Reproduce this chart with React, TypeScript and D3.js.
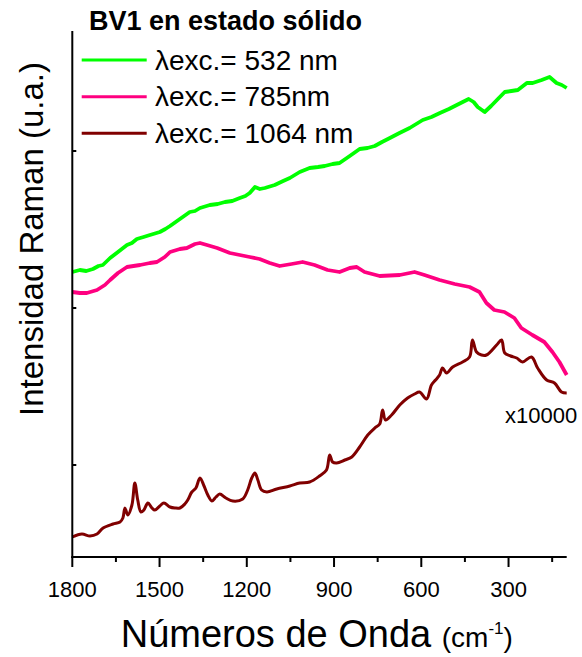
import React from "react";
import * as d3 from "d3";

// Raman spectra of BV1 (solid state) at three excitation wavelengths.
// Wavenumbers in cm-1, intensities in arbitrary units (curves offset for display).

const green532Wn = [1800, 1774, 1752, 1729, 1710, 1695, 1670, 1643, 1612, 1595, 1578, 1555, 1533, 1499, 1480, 1464, 1430, 1396, 1378, 1361, 1327, 1300, 1275, 1250, 1224, 1205, 1190, 1172, 1155, 1138, 1104, 1075, 1052, 1018, 984, 955, 932, 905, 881, 846, 812, 785, 760, 735, 708, 675, 640, 595, 565, 536, 505, 478, 437, 420, 406, 382, 360, 340, 313, 290, 268, 237, 217, 186, 159, 135, 117, 100];
const green532Int = [285, 287, 286, 288, 291, 292, 299, 305, 312, 314, 318, 320, 322, 325, 328, 331, 338, 345, 346, 349, 352, 353, 355, 356, 359, 361, 364, 370, 368, 369, 372, 376, 379, 385, 389, 390, 391, 393, 394, 401, 408, 409, 411, 415, 419, 424, 429, 437, 440, 444, 448, 452, 458, 455, 450, 445, 451, 457, 465, 466, 467, 474, 474, 477, 480, 474, 472, 469];

const pink785Wn = [1800, 1774, 1750, 1715, 1688, 1670, 1643, 1612, 1567, 1533, 1509, 1482, 1464, 1430, 1406, 1378, 1361, 1337, 1302, 1258, 1224, 1190, 1156, 1121, 1087, 1046, 1008, 967, 922, 881, 846, 822, 795, 743, 674, 623, 589, 537, 485, 434, 400, 376, 349, 314, 280, 256, 218, 177, 149, 125, 100];
const pink785Int = [265, 264, 264, 267, 272, 277, 284, 290, 292, 294, 295, 300, 305, 308, 309, 313, 314, 312, 309, 304, 302, 300, 298, 294, 291, 293, 295, 292, 287, 285, 289, 290, 285, 281, 282, 285, 282, 277, 273, 270, 265, 254, 247, 245, 239, 229, 222, 215, 205, 195, 182];

const red1064Wn = [1800, 1767, 1739, 1715, 1694, 1660, 1636, 1626, 1619, 1609, 1595, 1585, 1575, 1564, 1554, 1540, 1526, 1516, 1499, 1485, 1464, 1447, 1430, 1413, 1403, 1389, 1375, 1361, 1347, 1334, 1320, 1306, 1293, 1272, 1248, 1214, 1197, 1183, 1172, 1162, 1149, 1131, 1097, 1052, 1018, 984, 950, 926, 915, 905, 891, 863, 839, 812, 784, 760, 743, 733, 723, 702, 674, 647, 623, 606, 582, 565, 551, 537, 527, 513, 492, 458, 434, 424, 410, 393, 376, 341, 324, 313, 293, 272, 252, 221, 200, 169, 142, 118, 100];
const red1064Int = [20, 23, 21, 23, 29, 33, 35, 39, 49, 42, 52, 74, 57, 45, 47, 54, 49, 47, 51, 54, 50, 49, 49, 53, 57, 65, 69, 79, 71, 62, 56, 60, 63, 59, 56, 58, 67, 79, 84, 77, 67, 65, 68, 71, 74, 75, 81, 87, 102, 95, 94, 97, 100, 110, 122, 129, 133, 147, 137, 142, 152, 159, 163, 165, 158, 172, 177, 182, 189, 184, 190, 195, 200, 217, 205, 202, 202, 212, 217, 204, 201, 199, 195, 200, 189, 177, 174, 165, 164];

const xTicks = [1800, 1500, 1200, 900, 600, 300];
const xMinorTicks = [1650, 1350, 1050, 750, 450, 150];
const yMinorTicks = [92, 249, 406];

const seriesLabels = ["\u03bbexc.= 532 nm", "\u03bbexc.= 785nm", "\u03bbexc.= 1064 nm"];
const seriesColors = ["#00ff00", "#ff0080", "#800000"];

const W = 582;
const H = 657;
const FONT = "Arial, 'Liberation Sans', Helvetica, sans-serif";

export default function App() {
  const x = d3.scaleLinear().domain([1800, 100]).range([72.3, 566.7]);
  const y = d3.scaleLinear().domain([0, 526]).range([557, 31]);

  const toPts = (wn: number[], iv: number[]) => wn.map((w, i) => [w, iv[i]] as [number, number]);
  const lineLin = d3.line<[number, number]>().x((d) => x(d[0])).y((d) => y(d[1]));
  const lineRed = d3
    .line<[number, number]>()
    .x((d) => x(d[0]))
    .y((d) => y(d[1]))
    .curve(d3.curveCatmullRom.alpha(0.5));

  const x0 = x.range()[0];
  const x1 = x.range()[1];
  const yb = y.range()[0];
  const yt = y.range()[1];

  const legendY = [60, 96.7, 133.3];

  return (
    <svg
      width={W}
      height={H}
      style={{ position: "absolute", left: 0, top: 0, background: "#fff" }}
      fontFamily={FONT}
    >
      <rect width={W} height={H} fill="#fff" />

      {/* spectra */}
      <path d={lineLin(toPts(green532Wn, green532Int)) || ""} fill="none" stroke={seriesColors[0]} strokeWidth={3.8} strokeLinejoin="round" />
      <path d={lineLin(toPts(pink785Wn, pink785Int)) || ""} fill="none" stroke={seriesColors[1]} strokeWidth={3.8} strokeLinejoin="round" />
      <path d={lineRed(toPts(red1064Wn, red1064Int)) || ""} fill="none" stroke={seriesColors[2]} strokeWidth={3} strokeLinejoin="round" />

      {/* axes */}
      <line x1={x0} x2={x0} y1={yt} y2={yb + 1} stroke="#000" strokeWidth={2} />
      <line x1={x0 - 1} x2={x1} y1={yb} y2={yb} stroke="#000" strokeWidth={2} />
      {xTicks.map((t) => (
        <g key={t}>
          <line x1={x(t)} x2={x(t)} y1={yb} y2={yb + 10} stroke="#000" strokeWidth={2} />
          <text x={x(t)} y={597} textAnchor="middle" fontSize={22} fill="#000">
            {t}
          </text>
        </g>
      ))}
      {xMinorTicks.map((t) => (
        <line key={t} x1={x(t)} x2={x(t)} y1={yb} y2={yb + 5} stroke="#000" strokeWidth={2} />
      ))}
      {yMinorTicks.map((t) => (
        <line key={t} x1={x0} x2={x0 + 4} y1={y(t)} y2={y(t)} stroke="#000" strokeWidth={2} />
      ))}

      {/* axis titles */}
      <text x={120.7} y={647} fontSize={38} fill="#000">
        Números de Onda{" "}
        <tspan fontSize={28}>(cm</tspan>
        <tspan fontSize={17} dy={-13}>-1</tspan>
        <tspan fontSize={28} dy={13}>)</tspan>
      </text>
      <text
        transform={`translate(43,239) rotate(-90)`}
        textAnchor="middle"
        fontSize={33}
        fill="#000"
      >
        Intensidad Raman (u.a.)
      </text>

      {/* scale factor of the 1064 nm trace */}
      <text x={505} y={422.7} fontSize={22} fill="#000">
        x10000
      </text>

      {/* legend */}
      <text x={89} y={30} fontSize={27} fontWeight="bold" fill="#000">
        BV1 en estado sólido
      </text>
      {seriesLabels.map((s, i) => (
        <g key={s}>
          <line x1={81.7} x2={146.7} y1={legendY[i]} y2={legendY[i]} stroke={seriesColors[i]} strokeWidth={3} />
          <text x={155} y={legendY[i] + 9.5} fontSize={28} fill="#000">
            {s}
          </text>
        </g>
      ))}
    </svg>
  );
}
